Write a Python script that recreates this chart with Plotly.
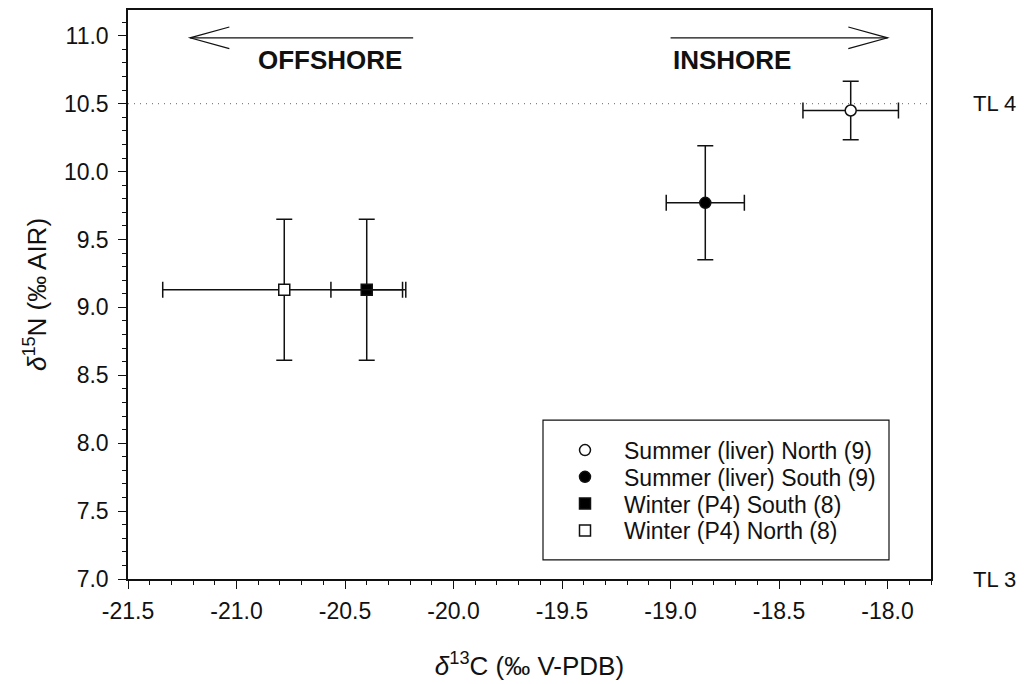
import plotly.graph_objects as go

# ---- data ----
series_names = ["Summer (liver) North (9)", "Summer (liver) South (9)",
                "Winter (P4) South (8)", "Winter (P4) North (8)"]
d13c = [-18.17, -18.84, -20.40, -20.78]
d13c_sd = [0.22, 0.18, 0.165, 0.56]
d15n = [10.45, 9.77, 9.13, 9.13]
d15n_sd = [0.215, 0.42, 0.52, 0.52]
marker_symbols = ["circle", "circle", "square", "square"]
marker_fills = ["white", "black", "black", "white"]

x_ticks = [-21.5, -21.0, -20.5, -20.0, -19.5, -19.0, -18.5, -18.0]
y_ticks = [7.0, 7.5, 8.0, 8.5, 9.0, 9.5, 10.0, 10.5, 11.0]
trophic_levels = {"TL 4": 10.5, "TL 3": 7.0}

FONT = "Liberation Sans, Arial, sans-serif"
INK = "#111111"

# plot-area geometry in pixels (for placing legend rows / frame)
PL, PR, PT, PB = 128, 931, 8, 582
PW, PH = PR - PL, PB - PT
legend_row_px = [452, 479, 506, 533]   # vertical centres of legend rows
legend_ids = ["legend", "legend2", "legend3", "legend4"]

fig = go.Figure()
for name, x, xe, y, ye, sym, fill, lg in zip(series_names, d13c, d13c_sd, d15n, d15n_sd,
                                             marker_symbols, marker_fills, legend_ids):
    fig.add_trace(go.Scatter(
        x=[x], y=[y], mode="markers", name=name, legend=lg,
        error_x=dict(type="data", array=[xe], color=INK, thickness=1.5, width=8),
        error_y=dict(type="data", array=[ye], color=INK, thickness=1.5, width=8),
        marker=dict(symbol=sym, size=11, color=fill, line=dict(color=INK, width=1.5)),
    ))

shapes = []
# TL 4 dotted reference line
shapes.append(dict(type="line", xref="paper", x0=0, x1=1, yref="y",
                   y0=trophic_levels["TL 4"], y1=trophic_levels["TL 4"],
                   line=dict(color="#666666", width=1, dash="1px,5px"), layer="below"))

# direction arrows (open V heads)
arrow_y = 10.985
off_tail, off_tip = -20.186, -21.214
in_tail, in_tip = -19.0, -18.0
head_dx, head_dy = 0.181, 0.08
for tail, tip in [(off_tail, off_tip), (in_tail, in_tip)]:
    sgn = 1 if tip < tail else -1
    shapes.append(dict(type="line", xref="x", yref="y", x0=tail, x1=tip, y0=arrow_y, y1=arrow_y,
                       line=dict(color=INK, width=1.2)))
    shapes.append(dict(type="path", xref="x", yref="y",
                       path=f"M {tip + sgn*head_dx},{arrow_y + head_dy} L {tip},{arrow_y} L {tip + sgn*head_dx},{arrow_y - head_dy}",
                       line=dict(color=INK, width=1.2)))

# legend frame
shapes.append(dict(type="rect", xref="paper", yref="paper",
                   x0=(543 - PL) / PW, x1=(889 - PL) / PW,
                   y0=(PB - 562.7) / PH, y1=(PB - 421.7) / PH,
                   line=dict(color=INK, width=1.2), fillcolor="rgba(0,0,0,0)", layer="above"))

annotations = [
    dict(text="<b>OFFSHORE</b>", x=-20.571, y=10.824, xref="x", yref="y", showarrow=False,
         xanchor="center", yanchor="middle", font=dict(family=FONT, size=26, color=INK)),
    dict(text="<b>INSHORE</b>", x=-18.716, y=10.824, xref="x", yref="y", showarrow=False,
         xanchor="center", yanchor="middle", font=dict(family=FONT, size=26, color=INK)),
]
for lab, yv in trophic_levels.items():
    annotations.append(dict(text=lab, x=1, xshift=40, xref="paper", y=yv, yref="y",
                            showarrow=False, xanchor="left", yanchor="middle",
                            font=dict(family=FONT, size=22, color=INK)))

axis_common = dict(showline=True, linecolor=INK, linewidth=1.5, mirror=True,
                   ticks="outside", ticklen=8, tickwidth=1.2, tickcolor=INK,
                   showgrid=False, zeroline=False,
                   tickfont=dict(family=FONT, size=23, color=INK))

legend_layouts = {}
for lg, ypx in zip(legend_ids, legend_row_px):
    legend_layouts[lg] = dict(x=(546 - PL) / PW, xanchor="left",
                              y=(PB - ypx) / PH, yanchor="middle",
                              bgcolor="rgba(0,0,0,0)", borderwidth=0, itemwidth=68,
                              font=dict(family=FONT, size=23, color=INK))

fig.update_layout(
    width=1024, height=684,
    margin=dict(l=PL, r=1024 - PR, t=PT, b=684 - PB),
    paper_bgcolor="white", plot_bgcolor="white",
    font=dict(family=FONT, color=INK),
    showlegend=True,
    xaxis=dict(range=[-21.5, -17.8], tickvals=x_ticks,
               ticktext=[f"{v:.1f}" for v in x_ticks], ticklabelstandoff=3,
               minor=dict(dtick=0.1, ticks="outside", ticklen=4, tickcolor=INK, tickwidth=1),
               title=dict(text="<i>δ</i><sup>13</sup>C (‰ V-PDB)",
                          font=dict(family=FONT, size=26, color=INK), standoff=33),
               **axis_common),
    yaxis=dict(range=[7.0, 11.19], tickvals=y_ticks,
               ticktext=[f"{v:.1f}" for v in y_ticks], ticklabelstandoff=5,
               minor=dict(dtick=0.1, ticks="outside", ticklen=4, tickcolor=INK, tickwidth=1),
               title=dict(text="<i>δ</i><sup>15</sup>N (‰ AIR)",
                          font=dict(family=FONT, size=26, color=INK), standoff=10),
               **axis_common),
    shapes=shapes, annotations=annotations,
    **legend_layouts,
)

fig.write_html("out.html")
